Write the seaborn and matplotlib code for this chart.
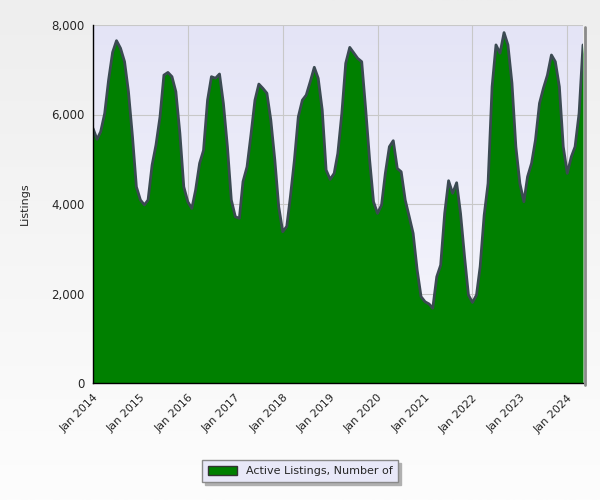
import numpy as np
import pandas as pd
import seaborn as sns
import matplotlib.pyplot as plt
import matplotlib.dates as mdates
from matplotlib.patches import Patch
from matplotlib.lines import Line2D
from matplotlib.colors import LinearSegmentedColormap
from matplotlib.ticker import FuncFormatter

# monthly active listings
listings_2014 = [5690, 5445, 5615, 6025, 6770, 7390, 7650, 7480, 7180, 6510, 5505, 4385]
listings_2015 = [4090, 3980, 4090, 4870, 5320, 5950, 6880, 6940, 6845, 6510, 5580, 4385]
listings_2016 = [4050, 3900, 4310, 4910, 5200, 6320, 6845, 6810, 6905, 6250, 5280, 4090]
listings_2017 = [3715, 3680, 4500, 4830, 5540, 6320, 6680, 6585, 6475, 5880, 4985, 3940]
listings_2018 = [3380, 3500, 4165, 4985, 5950, 6320, 6435, 6735, 7055, 6810, 6100, 4760]
listings_2019 = [4550, 4685, 5130, 6025, 7145, 7500, 7380, 7255, 7180, 6140, 4985, 4050]
listings_2020 = [3790, 3980, 4685, 5280, 5415, 4795, 4720, 4090, 3715, 3345, 2525, 1930]
listings_2021 = [1815, 1765, 1670, 2375, 2635, 3790, 4520, 4240, 4475, 3790, 2820, 1965]
listings_2022 = [1800, 1965, 2600, 3750, 4460, 6620, 7555, 7370, 7830, 7555, 6700, 5280]
listings_2023 = [4460, 4050, 4610, 4910, 5430, 6250, 6585, 6880, 7330, 7180, 6620, 5280]
listings_2024 = [4685, 5055, 5280, 6030, 7555]

listings = (listings_2014 + listings_2015 + listings_2016 + listings_2017 + listings_2018
            + listings_2019 + listings_2020 + listings_2021 + listings_2022 + listings_2023
            + listings_2024)
months = pd.date_range('2014-01-01', periods=len(listings), freq='MS')
years = list(range(2014, 2025))
year_labels = ['Jan %d' % y for y in years]
y_ticks = [0, 2000, 4000, 6000, 8000]

df = pd.DataFrame({'month': months, 'listings': listings})

sns.set_style('white')
plt.rcParams['font.family'] = ['DejaVu Sans']

fig = plt.figure(figsize=(6, 5), dpi=100)

# light grey page gradient
bg = fig.add_axes([0, 0, 1, 1], zorder=-10)
bg.imshow(np.linspace(0, 1, 200).reshape(-1, 1),
          cmap=LinearSegmentedColormap.from_list('page', ['#eeeeee', '#fdfdfd']),
          aspect='auto', extent=[0, 1, 0, 1])
bg.axis('off')

ax = fig.add_axes([93 / 600, 1 - 383 / 500, 490 / 600, 358 / 500])
ax.set_facecolor('none')

x0 = mdates.date2num(months[0])
x1 = mdates.date2num(months[-1])
ax.imshow(np.linspace(0, 1, 200).reshape(-1, 1),
          cmap=LinearSegmentedColormap.from_list('plot', ['#e4e4f6', '#f8f8fd']),
          aspect='auto', extent=[x0, x1, 0, 8000], zorder=0)

ax.fill_between(df['month'], df['listings'], color='#008000', linewidth=0, zorder=2)
sns.lineplot(data=df, x='month', y='listings', ax=ax, color='#3b4a52', linewidth=2, zorder=3)

ax.set_xlim(months[0], months[-1])
ax.set_ylim(0, 8000)

ax.set_xticks([pd.Timestamp('%d-01-01' % y) for y in years])
ax.set_xticklabels(year_labels, rotation=45, ha='right', rotation_mode='anchor', fontsize=8)
ax.set_yticks(y_ticks)
ax.yaxis.set_major_formatter(FuncFormatter(lambda v, p: '{:,.0f}'.format(v)))
ax.tick_params(axis='y', labelsize=8.5, length=4, width=1, color='black', direction='out', pad=2)
ax.tick_params(axis='x', length=4, width=1, color='black', direction='out', pad=3)
ax.set_xlabel('')
ax.set_ylabel('Listings', fontsize=8)
ax.yaxis.set_label_coords(-0.128, 0.5)

# grid sits under the green area
ax.set_axisbelow(True)
ax.grid(True, color='#c8c8c8', linewidth=0.8)
for i, t in enumerate(ax.xaxis.get_major_ticks()):
    if i % 2 == 1:
        t.tick1line.set_visible(False)
        t.gridline.set_visible(False)

for s in ['top', 'right']:
    ax.spines[s].set_visible(False)
for s in ['left', 'bottom']:
    ax.spines[s].set_color('black')
    ax.spines[s].set_linewidth(1)
    ax.spines[s].set_zorder(5)

# frame shadow on the right
fig.add_artist(Line2D([584.5 / 600, 584.5 / 600], [1 - 27 / 500, 1 - 385 / 500],
                      color='#8a8a8a', linewidth=2))

handle = Patch(facecolor='#008000', edgecolor='#333333', label='Active Listings, Number of')
leg = fig.legend(handles=[handle], loc='center', bbox_to_anchor=(0.5, 0.058),
                 frameon=True, fancybox=False, fontsize=8,
                 facecolor='#e8e8f8', edgecolor='#8a8a8a', framealpha=1,
                 handlelength=2.6, handleheight=0.9, borderpad=0.5,
                 shadow={'color': '#b0b0b0', 'alpha': 1})
leg.get_frame().set_linewidth(1)

fig.savefig('out.png', dpi=100)
